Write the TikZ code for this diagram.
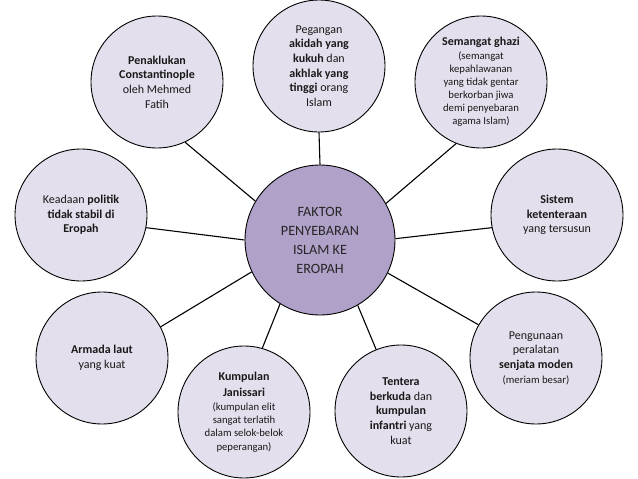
\documentclass[tikz,border=0pt]{standalone}
\usepackage{fontspec}
\setmainfont{Carlito}
\definecolor{ungumuda}{HTML}{E4DFEC}
\definecolor{ungutua}{HTML}{B0A1C8}
\newcommand{\kecil}{\fontsize{10.7}{12.7}\selectfont}

\begin{document}
\begin{tikzpicture}[
  x=1pt, y=-1pt,
  faktor/.style={circle, draw=black, fill=ungumuda, line width=0.9pt, inner sep=0pt, minimum size=132pt, align=center, text=black!90, font=\fontsize{12}{14.6}\selectfont},
  pusat/.style={circle, draw=black, fill=ungutua, line width=0.9pt, inner sep=0pt, minimum size=150pt, align=center, text=black!85, font=\fontsize{14.2}{19}\selectfont},
  garis/.style={line width=1.1pt, draw=black}
]
  \useasboundingbox (0,0) rectangle (638,479);

  % Bulatan tengah
  \node[pusat] (pusat) at (320,240) {FAKTOR\\PENYEBARAN\\ISLAM KE\\EROPAH};

  % Bulatan faktor di sekeliling
  \node[faktor] (pegangan) at (319,66)
    {Pegangan\\\textbf{akidah yang}\\\textbf{kukuh} dan\\\textbf{akhlak yang}\\\textbf{tinggi} orang\\Islam};
  \node[faktor] (semangat) at (481,82)
    {\textbf{Semangat ghazi}\\[-1pt]\kecil(semangat\\[-1.5pt]\kecil kepahlawanan\\[-1.5pt]\kecil yang tidak gentar\\[-1.5pt]\kecil berkorban jiwa\\[-1.5pt]\kecil demi penyebaran\\[-1.5pt]\kecil agama Islam)};
  \node[faktor] (sistem) at (557,215)
    {\textbf{Sistem}\\\textbf{ketenteraan}\\yang tersusun};
  \node[faktor] (pengunaan) at (536,358)
    {Pengunaan\\peralatan\\\textbf{senjata moden}\\\kecil(meriam besar)};
  \node[faktor] (tentera) at (401,411)
    {\textbf{Tentera}\\\textbf{berkuda} dan\\\textbf{kumpulan}\\\textbf{infantri} yang\\kuat};
  \node[faktor] (kumpulan) at (244,412)
    {\textbf{Kumpulan}\\[1pt]\textbf{Janissari}\\[0pt]\kecil(kumpulan elit\\[-1.5pt]\kecil sangat terlatih\\[-1.5pt]\kecil dalam selok-belok\\[-1.5pt]\kecil peperangan)};
  \node[faktor] (armada) at (102,358)
    {\textbf{Armada laut}\\yang kuat};
  \node[faktor] (keadaan) at (81,215)
    {Keadaan \textbf{politik}\\\textbf{tidak stabil di}\\\textbf{Eropah}};
  \node[faktor] (penaklukan) at (157,82)
    {\textbf{Penaklukan}\\\textbf{Constantinople}\\oleh Mehmed\\Fatih};

  % Garis penghubung dari bulatan tengah
  \foreach \a/\n/\b in {90/pegangan/270, 29/semangat/248, 1/sistem/191, 334/pengunaan/150,
                        300/tentera/112, 238/kumpulan/74, 205/armada/28, 180/keadaan/349,
                        149/penaklukan/295} {
    \draw[garis] (pusat.\a) -- (\n.\b);
  }
\end{tikzpicture}
\end{document}
